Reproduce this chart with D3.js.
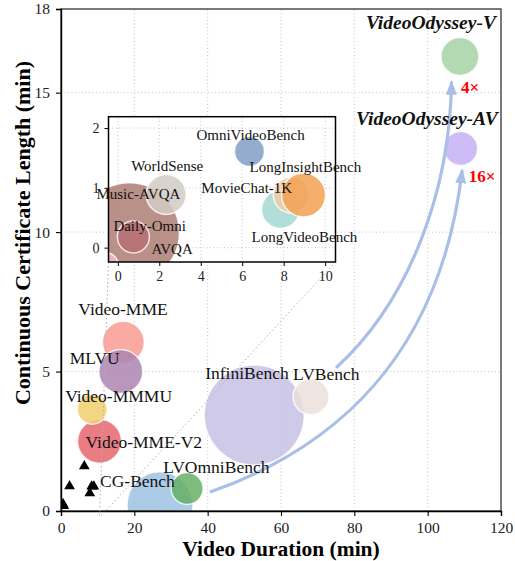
<!DOCTYPE html>
<html>
<head>
<meta charset="utf-8">
<script src="https://cdn.jsdelivr.net/npm/d3@7"></script>
<style>
  body { margin: 0; background: #fff; }
  svg text { font-family: "Liberation Serif", "Times New Roman", serif; }
</style>
</head>
<body>
<svg id="chart" width="515" height="561"></svg>
<script>
// ---- data ----

// main panel benchmarks (drawing order)
var mainNames = ["CG-Bench", "InfiniBench", "LVBench", "LVOmniBench", "Video-MME",
                 "MLVU", "Video-MME-V2", "Video-MMMU", "VideoOdyssey-V", "VideoOdyssey-AV"];
var mainDuration = [27.0, 52.7, 68.2, 34.4, 17.0, 16.3, 10.5, 8.5, 108.8, 109.0];
var mainLength = [0.22, 3.44, 4.1, 0.81, 6.05, 5.0, 2.5, 3.65, 16.3, 13.0];
var mainSize = [1089, 2500, 324, 256, 441, 484, 484, 225, 361, 289];

// short benchmarks, drawn as triangles in main panel and bubbles in the inset
var insetNames = ["Music-AVQA", "AVQA", "Daily-Omni", "WorldSense", "OmniVideoBench",
                  "LongVideoBench", "MovieChat-1K", "LongInsightBench"];
var insetDuration = [0.56, -0.6, 0.75, 2.33, 6.35, 7.85, 8.37, 8.96];
var insetLength = [0.25, -0.3, 0.18, 0.89, 1.61, 0.64, 0.88, 0.88];
var insetSize = [2500, 169, 256, 400, 225, 361, 324, 484];

// tick labels
var xTicks = [0, 20, 40, 60, 80, 100, 120];
var yTicks = [0, 5, 10, 15, 18];
var insetXTicks = [0, 2, 4, 6, 8, 10];
var insetYTicks = [0, 1, 2];

// gain annotations
var gainTargets = ["VideoOdyssey-V", "VideoOdyssey-AV"];
var gainLabels = ["4×", "16×"];

// arrow curves (data units): start, control 1, control 2, tip
var arrowCurves = [
  [[75.0, 5.13], [95.2, 7.56], [106.1, 11.5], [106.5, 15.39]],
  [[40.6, 0.68], [73.4, 2.19], [103.4, 5.41], [109.4, 12.22]]
];

// ---- styles / layout ----
var colors = {
  "CG-Bench": "#9cc2e2", "InfiniBench": "#c6c1e4", "LVBench": "#ebdfda",
  "LVOmniBench": "#66b066", "Video-MME": "#f99a93", "MLVU": "#ad84b0",
  "Video-MME-V2": "#e6666f", "Video-MMMU": "#f1cf6f", "VideoOdyssey-V": "#a5d2a5",
  "VideoOdyssey-AV": "#c6b0f5",
  "Music-AVQA": "#ae7e73", "AVQA": "#f7b6c4", "Daily-Omni": "#b86e76",
  "WorldSense": "#d2cbc4", "OmniVideoBench": "#819fc5", "LongVideoBench": "#a3d8d2",
  "MovieChat-1K": "#efcda6", "LongInsightBench": "#f3a152"
};

// label offsets from bubble centre (px), text anchored at start
var labelOffsets = {
  "Video-MME": [-45, -27], "MLVU": [-51, -8], "Video-MMMU": [-27, -7],
  "Video-MME-V2": [-14, 7], "CG-Bench": [-60, -18], "LVOmniBench": [-24, -15],
  "InfiniBench": [-49, -36], "LVBench": [-18, -17],
  "OmniVideoBench": [-53, -11], "WorldSense": [-35, -23], "LongInsightBench": [-54, -23],
  "Music-AVQA": [-33, -34], "MovieChat-1K": [-90, -2], "Daily-Omni": [-20, -6],
  "AVQA": [46, -12], "LongVideoBench": [-29, 33]
};
// bold italic titles, anchored at end
var titleOffsets = { "VideoOdyssey-V": [36, -27], "VideoOdyssey-AV": [37, -23] };
var gainOffsets = [[1, 37], [8, 34]];

var plot = { left: 61, right: 501, top: 9, bottom: 511 };
var inset = { left: 108.5, right: 335.5, top: 116.7, bottom: 262 };

var svg = d3.select("#chart");

var x = d3.scaleLinear().domain([0, 120]).range([plot.left, plot.right]);
var y = d3.scaleLinear().domain([0, 18]).range([plot.bottom, plot.top]);
var r = d3.scaleSqrt().domain([0, 2500]).range([0, 50]);

var ix = d3.scaleLinear().domain([-0.45, 10.5]).range([inset.left, inset.right]);
var iy = d3.scaleLinear().domain([-0.24, 2.19]).range([inset.bottom, inset.top]);

/*
    NAME: drawGrid
    DESCRIPTION: dotted grid lines for a panel
*/
function drawGrid(g, xs, ys, xv, yv) {
  g.selectAll(".gx").data(xv).enter().append("line")
    .attr("x1", function (d) { return xs(d); }).attr("x2", function (d) { return xs(d); })
    .attr("y1", ys.range()[0]).attr("y2", ys.range()[1])
    .attr("stroke", "#bdbdbd").attr("stroke-width", 0.9).attr("stroke-dasharray", "1,2.5");
  g.selectAll(".gy").data(yv).enter().append("line")
    .attr("y1", function (d) { return ys(d); }).attr("y2", function (d) { return ys(d); })
    .attr("x1", xs.range()[0]).attr("x2", xs.range()[1])
    .attr("stroke", "#bdbdbd").attr("stroke-width", 0.9).attr("stroke-dasharray", "1,2.5");
} // end function drawGrid

// clip paths
var defs = svg.append("defs");
defs.append("clipPath").attr("id", "clipMain").append("rect")
  .attr("x", plot.left).attr("y", plot.top)
  .attr("width", plot.right - plot.left).attr("height", plot.bottom - plot.top);
defs.append("clipPath").attr("id", "clipInset").append("rect")
  .attr("x", inset.left).attr("y", inset.top)
  .attr("width", inset.right - inset.left).attr("height", inset.bottom - inset.top);
defs.append("marker").attr("id", "head")
  .attr("markerUnits", "userSpaceOnUse")
  .attr("viewBox", "0 -6 15 12").attr("refX", 13).attr("refY", 0)
  .attr("markerWidth", 15).attr("markerHeight", 12).attr("orient", "auto")
  .append("path").attr("d", "M0,-5.5L15,0L0,5.5Z").attr("fill", "#a9bfe7");

// ---- main panel ----
drawGrid(svg.append("g"), x, y, [20, 40, 60, 80, 100], [5, 10, 15]);

var mainG = svg.append("g").attr("clip-path", "url(#clipMain)");

mainG.selectAll("circle").data(mainNames).enter().append("circle")
  .attr("cx", function (d, i) { return x(mainDuration[i]); })
  .attr("cy", function (d, i) { return y(mainLength[i]); })
  .attr("r", function (d, i) { return r(mainSize[i]); })
  .attr("fill", function (d) { return colors[d]; })
  .attr("fill-opacity", 0.85)
  .attr("stroke", "#fff").attr("stroke-opacity", 0.8).attr("stroke-width", 1.5);

// triangles for the short benchmarks
mainG.selectAll("path.tri").data(insetNames).enter().append("path")
  .attr("class", "tri")
  .attr("d", d3.symbol().type(d3.symbolTriangle).size(50))
  .attr("transform", function (d, i) {
    return "translate(" + x(insetDuration[i]) + "," + y(insetLength[i]) + ")";
  })
  .attr("fill", "#000");

// arrows
var curve = function (pts) {
  var p = pts.map(function (q) { return [x(q[0]), y(q[1])]; });
  return "M" + p[0] + "C" + p[1] + " " + p[2] + " " + p[3];
};
svg.selectAll("path.arrow").data(arrowCurves).enter().append("path")
  .attr("class", "arrow")
  .attr("d", curve)
  .attr("fill", "none").attr("stroke", "#a9bfe7").attr("stroke-width", 3.2)
  .attr("marker-end", "url(#head)");

// labels
mainNames.forEach(function (d, i) {
  var cx = x(mainDuration[i]), cy = y(mainLength[i]);
  if (titleOffsets[d]) {
    svg.append("text").attr("x", cx + titleOffsets[d][0]).attr("y", cy + titleOffsets[d][1])
      .attr("text-anchor", "end").attr("font-size", 19.5)
      .attr("font-weight", "bold").attr("font-style", "italic").attr("fill", "#111").text(d);
  } else {
    svg.append("text").attr("x", cx + labelOffsets[d][0]).attr("y", cy + labelOffsets[d][1])
      .attr("font-size", 17.5).attr("fill", "#111").text(d);
  }
});

gainTargets.forEach(function (d, k) {
  var i = mainNames.indexOf(d);
  svg.append("text")
    .attr("x", x(mainDuration[i]) + gainOffsets[k][0])
    .attr("y", y(mainLength[i]) + gainOffsets[k][1])
    .attr("font-size", 17).attr("font-weight", "bold").attr("fill", "#ff0000")
    .text(gainLabels[k]);
});

// frame and axes
svg.append("rect").attr("x", plot.left).attr("y", plot.top)
  .attr("width", plot.right - plot.left).attr("height", plot.bottom - plot.top)
  .attr("fill", "none").attr("stroke", "#333").attr("stroke-width", 1.3);

var xAxis = svg.append("g").attr("transform", "translate(0," + plot.bottom + ")")
  .call(d3.axisBottom(x).tickValues(xTicks).tickSize(5).tickPadding(6));
var yAxis = svg.append("g").attr("transform", "translate(" + plot.left + ",0)")
  .call(d3.axisLeft(y).tickValues(yTicks).tickSize(5).tickPadding(6));
[xAxis, yAxis].forEach(function (a) {
  a.select(".domain").attr("stroke", "#000").attr("stroke-width", 1.4);
  a.selectAll(".tick line").attr("stroke", "#000").attr("stroke-width", 1.1);
  a.selectAll("text").attr("font-size", 15.5).attr("fill", "#222")
    .attr("font-family", "Liberation Serif");
});

svg.append("text").attr("x", (plot.left + plot.right) / 2).attr("y", 556)
  .attr("text-anchor", "middle").attr("font-size", 21.5).attr("font-weight", "bold")
  .text("Video Duration (min)");
svg.append("text").attr("transform", "translate(30,233) rotate(-90)")
  .attr("text-anchor", "middle").attr("font-size", 22).attr("font-weight", "bold")
  .text("Continuous Certificate Length (min)");

// ---- inset panel ----
// connector lines from inset corners to zoomed region
var regionCorner = [x(ix.domain()[1]), y(iy.domain()[0])];
[inset.left, inset.right].forEach(function (cx) {
  svg.append("line").attr("x1", cx).attr("y1", inset.bottom)
    .attr("x2", regionCorner[0]).attr("y2", regionCorner[1])
    .attr("stroke", "#b0b0b0").attr("stroke-width", 1).attr("stroke-dasharray", "1.5,2.5");
});

svg.append("rect").attr("x", inset.left).attr("y", inset.top)
  .attr("width", inset.right - inset.left).attr("height", inset.bottom - inset.top)
  .attr("fill", "#fff");

drawGrid(svg.append("g"), ix, iy, insetXTicks, insetYTicks);

var insetG = svg.append("g").attr("clip-path", "url(#clipInset)");
insetG.selectAll("circle").data(insetNames).enter().append("circle")
  .attr("cx", function (d, i) { return ix(insetDuration[i]); })
  .attr("cy", function (d, i) { return iy(insetLength[i]); })
  .attr("r", function (d, i) { return r(insetSize[i]); })
  .attr("fill", function (d) { return colors[d]; })
  .attr("fill-opacity", 0.85)
  .attr("stroke", "#fff").attr("stroke-opacity", 0.8).attr("stroke-width", 1.5);

var ixAxis = svg.append("g").attr("transform", "translate(0," + inset.bottom + ")")
  .call(d3.axisBottom(ix).tickValues(insetXTicks).tickFormat(d3.format("d"))
    .tickSize(4).tickPadding(5));
var iyAxis = svg.append("g").attr("transform", "translate(" + inset.left + ",0)")
  .call(d3.axisLeft(iy).tickValues(insetYTicks).tickFormat(d3.format("d"))
    .tickSize(4).tickPadding(5));
[ixAxis, iyAxis].forEach(function (a) {
  a.select(".domain").remove();
  a.selectAll(".tick line").attr("stroke", "#000").attr("stroke-width", 1);
  a.selectAll("text").attr("font-size", 14).attr("fill", "#222")
    .attr("font-family", "Liberation Serif");
});

svg.append("rect").attr("x", inset.left).attr("y", inset.top)
  .attr("width", inset.right - inset.left).attr("height", inset.bottom - inset.top)
  .attr("fill", "none").attr("stroke", "#000").attr("stroke-width", 1.5);

insetNames.forEach(function (d, i) {
  svg.append("text")
    .attr("x", ix(insetDuration[i]) + labelOffsets[d][0])
    .attr("y", iy(insetLength[i]) + labelOffsets[d][1])
    .attr("font-size", 15).attr("fill", "#111").text(d);
});
</script>
</body>
</html>
